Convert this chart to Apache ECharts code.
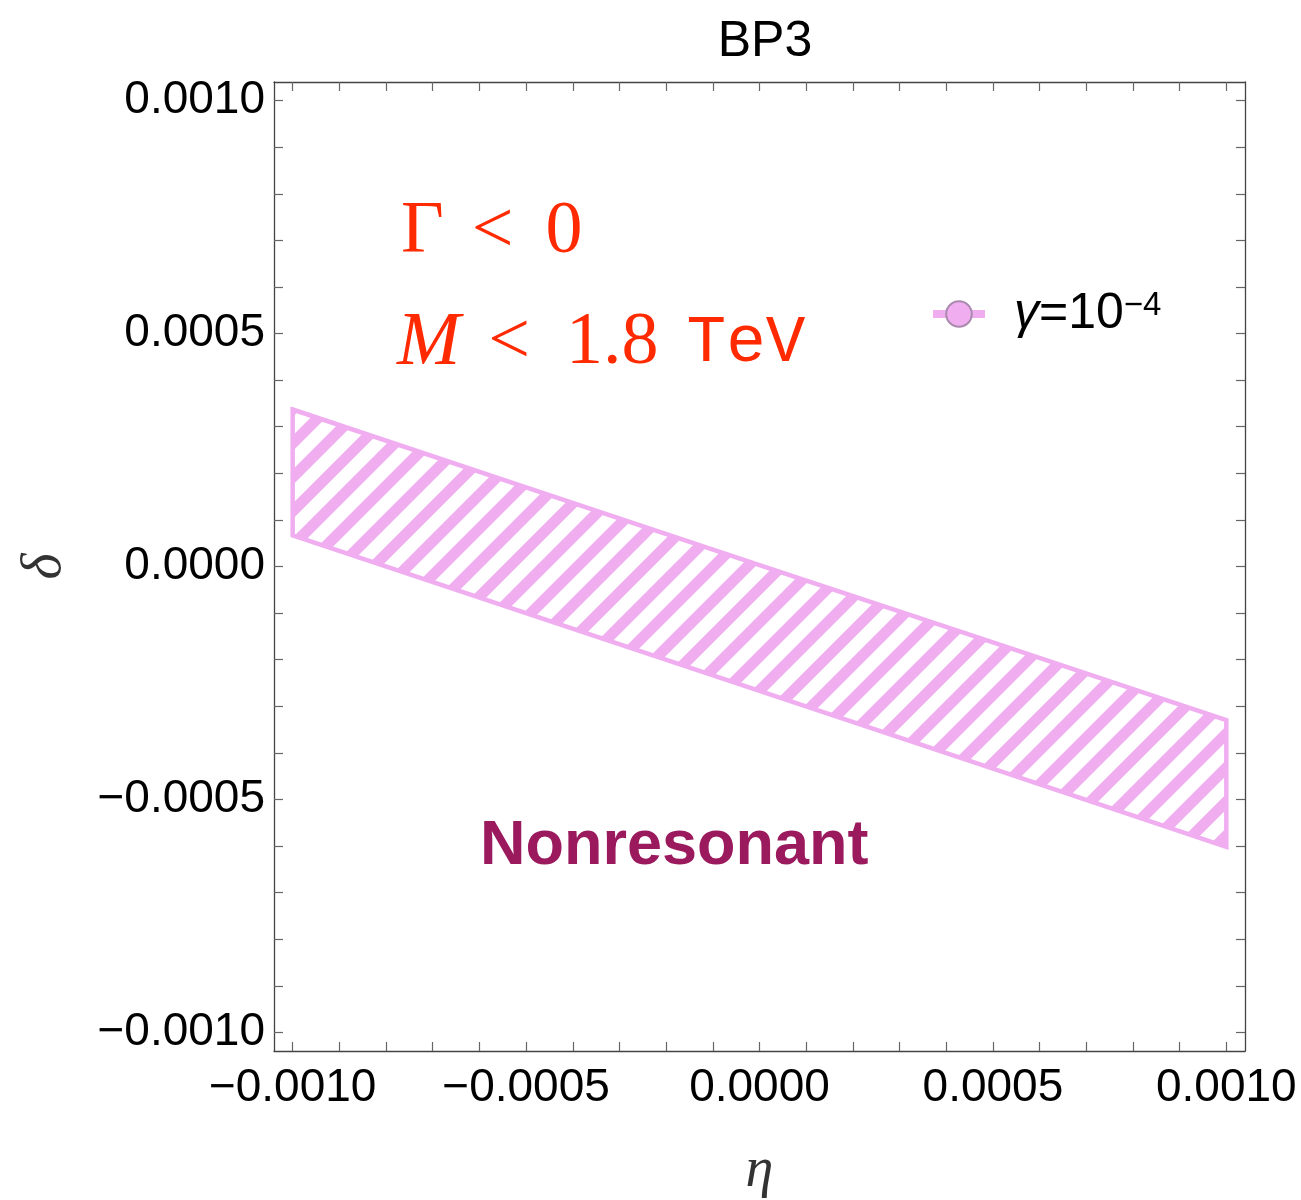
<!DOCTYPE html>
<html>
<head>
<meta charset="utf-8">
<script src="https://cdn.jsdelivr.net/npm/echarts@6/dist/echarts.min.js"></script>
<style>
html,body{margin:0;padding:0;background:#fff;}
#chart{width:1301px;height:1200px;}
</style>
</head>
<body>
<div id="chart"></div>
<script>
// ---- data ----
var etaValues   = [-0.001, -0.0005, 0.0, 0.0005, 0.001];
var deltaUpper  = [0.000337, 0.000170, 0.000003, -0.000163, -0.000330];
var deltaLower  = [0.000067, -0.000100, -0.000267, -0.000434, -0.000602];
var majorTicks  = [-0.001, -0.0005, 0.0, 0.0005, 0.001];
var seriesName  = 'gamma';
var axisMin = -0.00104, axisMax = 0.00104;

var minorTicks = [];
for (var k = -10; k <= 10; k++) minorTicks.push(k / 10000);

var PINK = '#F0AEF0';

// hatch pattern tile (45 degree stripes)
function makeHatch() {
  var T = 34;
  var c = document.createElement('canvas');
  c.width = T; c.height = T;
  var g = c.getContext('2d');
  g.strokeStyle = PINK;
  g.lineWidth = 11;
  g.lineCap = 'butt';
  [-12, 22, 56, 90].forEach(function (cc) {
    g.beginPath();
    g.moveTo(cc - T - T, 2 * T);
    g.lineTo(cc + T, -T);
    g.stroke();
  });
  return c;
}
var hatch = makeHatch();

function fmt(v) {
  if (Math.abs(v) < 1e-12) return '0.0000';
  return (v < 0 ? '\u2212' : '') + Math.abs(v).toFixed(4);
}

var chart = echarts.init(document.getElementById('chart'), null, {renderer: 'canvas'});

var axisLineStyle = {color: '#444', width: 1.3};
var tickStyle = {show: true, inside: true, length: 9, lineStyle: {color: '#666', width: 1.2}, customValues: minorTicks};
var RED = '#FF2A00';

var option = {
  backgroundColor: '#fff',
  animation: false,
  title: {
    text: 'BP3',
    left: 760, textAlign: 'center', top: 12,
    textStyle: {fontFamily: 'Liberation Sans', fontSize: 50, fontWeight: 'normal', color: '#000'}
  },
  grid: {left: 274, right: 56, top: 82, bottom: 149, outerBoundsMode: 'none', containLabel: false},
  legend: {
    data: [seriesName],
    left: 929, top: 289, padding: 0,
    itemWidth: 52, itemHeight: 32,
    lineStyle: {color: PINK, width: 8},
    formatter: function () { return '{g|\u03B3}{t|=10}{s|\u22124}'; },
    textStyle: {
      color: '#000', fontSize: 50, fontFamily: 'Liberation Sans',
      rich: {
        g: {fontFamily: 'Liberation Sans', fontStyle: 'italic', fontSize: 50, padding: [0, 0, 0, 24], color: '#000'},
        t: {fontFamily: 'Liberation Sans', fontSize: 50, color: '#000'},
        s: {fontFamily: 'Liberation Sans', fontSize: 33, verticalAlign: 'top', color: '#000'}
      }
    }
  },
  xAxis: [{
    type: 'value', min: axisMin, max: axisMax, position: 'bottom',
    axisLine: {show: true, onZero: false, lineStyle: axisLineStyle},
    axisTick: tickStyle,
    splitLine: {show: false},
    axisLabel: {show: true, customValues: majorTicks, formatter: fmt, margin: 14,
      fontFamily: 'Liberation Sans', fontSize: 46, color: '#000'},
    name: '\u03B7', nameLocation: 'middle', nameGap: 92,
    nameTextStyle: {fontFamily: 'Liberation Serif', fontStyle: 'italic', fontSize: 56, color: '#333'}
  }, {
    type: 'value', min: axisMin, max: axisMax, position: 'top',
    axisLine: {show: true, onZero: false, lineStyle: axisLineStyle},
    axisTick: tickStyle,
    splitLine: {show: false},
    axisLabel: {show: false}
  }],
  yAxis: [{
    type: 'value', min: axisMin, max: axisMax, position: 'left',
    axisLine: {show: true, onZero: false, lineStyle: axisLineStyle},
    axisTick: tickStyle,
    splitLine: {show: false},
    axisLabel: {show: true, customValues: majorTicks, formatter: fmt, margin: 9,
      fontFamily: 'Liberation Sans', fontSize: 46, color: '#000'},
    name: '\u03B4', nameLocation: 'middle', nameGap: 201, nameRotate: 90,
    nameTextStyle: {fontFamily: 'Liberation Serif', fontStyle: 'italic', fontSize: 56, color: '#333'}
  }, {
    type: 'value', min: axisMin, max: axisMax, position: 'right',
    axisLine: {show: true, onZero: false, lineStyle: axisLineStyle},
    axisTick: tickStyle,
    splitLine: {show: false},
    axisLabel: {show: false}
  }],
  series: [{
    type: 'custom',
    name: 'band',
    coordinateSystem: 'cartesian2d',
    data: etaValues.map(function (e, i) { return [e, deltaUpper[i], deltaLower[i]]; }),
    encode: {x: 0, y: [1, 2]},
    clip: true,
    silent: true,
    renderItem: function (params, api) {
      if (params.dataIndex !== 0) return null;
      var pts = [];
      for (var i = 0; i < etaValues.length; i++) pts.push(api.coord([etaValues[i], deltaUpper[i]]));
      for (var j = etaValues.length - 1; j >= 0; j--) pts.push(api.coord([etaValues[j], deltaLower[j]]));
      return {
        type: 'polygon',
        shape: {points: pts},
        style: {fill: {image: hatch, repeat: 'repeat'}, stroke: PINK, lineWidth: 4.5, lineJoin: 'miter'}
      };
    }
  }, {
    type: 'line',
    name: seriesName,
    data: [],
    symbol: 'circle',
    symbolSize: 25,
    itemStyle: {color: PINK, borderColor: '#A98AAE', borderWidth: 1.5},
    lineStyle: {color: PINK, width: 8}
  }],
  graphic: [{
    type: 'text', left: 401, top: 196,
    style: {
      text: '{a|\u0393}{b|<}{c|0}',
      rich: {
        a: {fontFamily: 'Liberation Serif', fontSize: 74, fill: RED},
        b: {fontFamily: 'Liberation Serif', fontSize: 74, fill: RED, padding: [0, 32, 0, 28]},
        c: {fontFamily: 'Liberation Serif', fontSize: 74, fill: RED}
      }
    }
  }, {
    type: 'text', left: 397, top: 306,
    style: {
      text: '{i|M}{b|<}{c|1.8}{m|TeV}',
      rich: {
        i: {fontFamily: 'Liberation Serif', fontStyle: 'italic', fontSize: 76, fill: RED},
        b: {fontFamily: 'Liberation Serif', fontSize: 74, fill: RED, padding: [0, 36, 0, 28]},
        c: {fontFamily: 'Liberation Serif', fontSize: 74, fill: RED},
        m: {fontFamily: 'Liberation Mono', fontSize: 66, fill: RED, padding: [0, 0, 0, 28]}
      }
    }
  }, {
    type: 'text', left: 480, top: 815,
    style: {
      text: 'Nonresonant',
      fontFamily: 'Liberation Sans', fontWeight: 'bold', fontSize: 63, fill: '#9B1A5E'
    }
  }]
};
chart.setOption(option);
</script>
</body>
</html>
